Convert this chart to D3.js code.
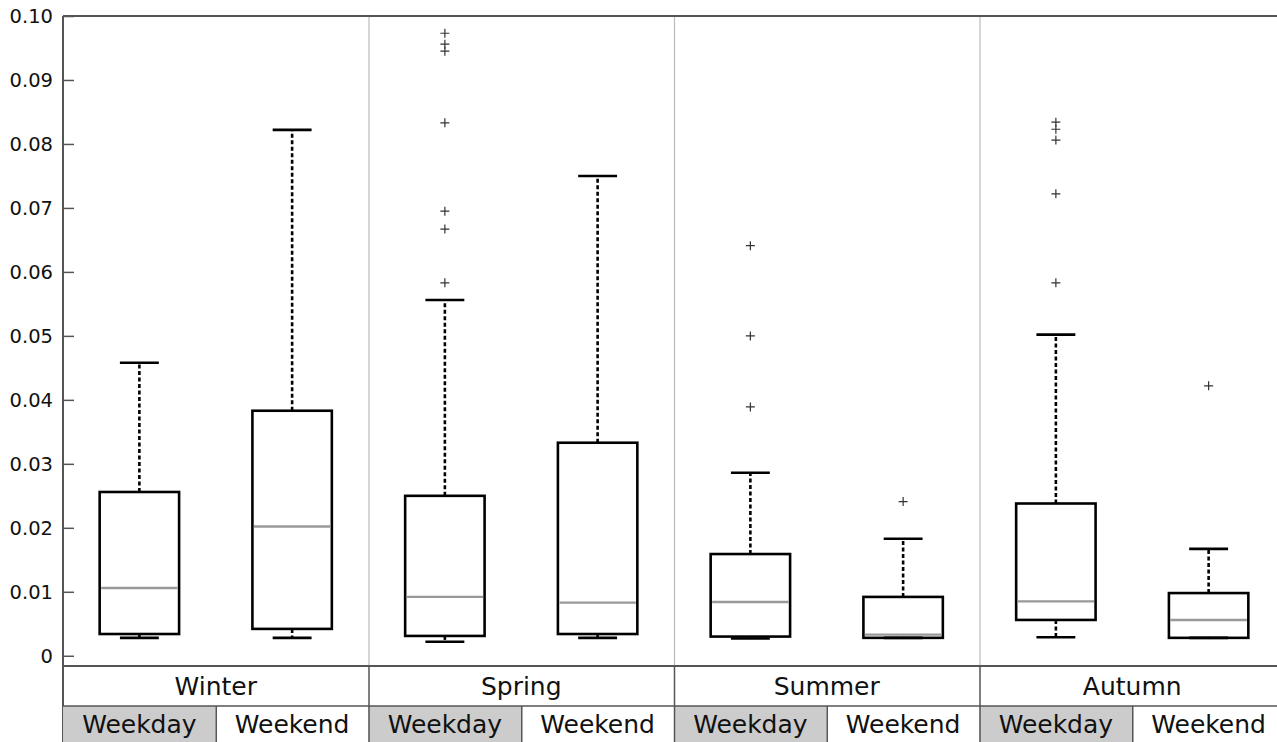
<!DOCTYPE html>
<html><head><meta charset="utf-8">
<script src="https://cdn.jsdelivr.net/npm/d3@7"></script>
<style>body{margin:0;background:#fff;overflow:hidden}svg{display:block;font-family:"DejaVu Sans",sans-serif}</style>
</head><body><svg id="c" width="1277" height="742"></svg>
<script>
const seasons = ["Winter","Spring","Summer","Autumn"];
const dayTypes = ["Weekday","Weekend"];
const yTicks = [0,0.01,0.02,0.03,0.04,0.05,0.06,0.07,0.08,0.09,0.10];
const yTickLabels = ["0","0.01","0.02","0.03","0.04","0.05","0.06","0.07","0.08","0.09","0.10"];
// order: Winter-Weekday, Winter-Weekend, Spring-Weekday, ...
const whiskerLow  = [0.0028,0.0028,0.0022,0.0028,0.0027,0.0028,0.0029,0.0028];
const q1          = [0.0034,0.0042,0.0031,0.0034,0.0030,0.0028,0.0056,0.0028];
const median      = [0.0106,0.0202,0.0092,0.0083,0.0084,0.0033,0.0085,0.0056];
const q3          = [0.0256,0.0383,0.0250,0.0333,0.0159,0.0092,0.0238,0.0098];
const whiskerHigh = [0.0458,0.0822,0.0556,0.0750,0.0286,0.0183,0.0502,0.0167];
const outliers = [
  [],
  [],
  [0.0973,0.0956,0.0945,0.0833,0.0695,0.0667,0.0583],
  [],
  [0.0641,0.0500,0.0389],
  [0.0241],
  [0.0834,0.0823,0.0806,0.0722,0.0583],
  [0.0422]
];

(function(){
const svg = d3.select("#c");
const left = 63, topY = 16, plotBottom = 666, row1 = 706, row2 = 746;
const colW = 305.5;
const x = d3.scaleBand().domain(seasons).range([left, left + colW*4]);
const xs = d3.scaleBand().domain(dayTypes).range([0, x.bandwidth()]);
const y = d3.scaleLinear().domain([-0.0016, 0.1]).range([plotBottom, topY]);
const axisCol = "#555";

const boxes = [];
seasons.forEach((s,i)=>dayTypes.forEach((d,j)=>{
  const k = i*2+j;
  boxes.push({s,d,k,cx:x(s)+xs(d)+xs.bandwidth()/2});
}));

svg.selectAll("line.sep").data(seasons.slice(1)).enter().append("line")
  .attr("x1",d=>x(d)+0.5).attr("x2",d=>x(d)+0.5).attr("y1",topY).attr("y2",plotBottom)
  .attr("stroke","#bbb").attr("stroke-width",1.2);

const yAxis = d3.axisLeft(y).tickValues(yTicks).tickFormat((d,i)=>yTickLabels[i]).tickSizeInner(-11).tickSizeOuter(0).tickPadding(10);
const ga = svg.append("g").attr("transform",`translate(${left},0)`).call(yAxis);
ga.select(".domain").attr("stroke",axisCol).attr("stroke-width",2).attr("d",`M0,${topY}V${row2}`);
ga.selectAll(".tick line").attr("stroke",axisCol).attr("stroke-width",1.5);
ga.selectAll(".tick text").attr("font-size",19.5).attr("fill","#111").attr("font-family","DejaVu Sans");
svg.append("line").attr("x1",left).attr("x2",1285).attr("y1",topY).attr("y2",topY).attr("stroke",axisCol).attr("stroke-width",2);

const bw = xs.bandwidth()*0.52, cw = bw*0.49;
const g = svg.append("g");
boxes.forEach(b=>{
  const k=b.k;
  g.append("line").attr("x1",b.cx).attr("x2",b.cx).attr("y1",y(q3[k])).attr("y2",y(whiskerHigh[k]))
    .attr("stroke","#000").attr("stroke-width",2.6).attr("stroke-dasharray","4,2.5");
  g.append("line").attr("x1",b.cx).attr("x2",b.cx).attr("y1",y(q1[k])).attr("y2",y(whiskerLow[k]))
    .attr("stroke","#000").attr("stroke-width",2.6).attr("stroke-dasharray","4,2.5");
  [whiskerHigh[k],whiskerLow[k]].forEach(v=>{
    g.append("line").attr("x1",b.cx-cw/2).attr("x2",b.cx+cw/2).attr("y1",y(v)).attr("y2",y(v))
      .attr("stroke","#000").attr("stroke-width",2.6);
  });
  g.append("rect").attr("x",b.cx-bw/2).attr("width",bw).attr("y",y(q3[k])).attr("height",y(q1[k])-y(q3[k]))
    .attr("fill","none").attr("stroke","#000").attr("stroke-width",2.6);
  g.append("line").attr("x1",b.cx-bw/2+1.5).attr("x2",b.cx+bw/2-1.5).attr("y1",y(median[k])).attr("y2",y(median[k]))
    .attr("stroke","#999").attr("stroke-width",2.4);
  outliers[k].forEach(v=>{
    const yy=y(v);
    g.append("path").attr("d",`M${b.cx-4.5},${yy}H${b.cx+4.5}M${b.cx},${yy-4.5}V${yy+4.5}`)
      .attr("stroke","#333").attr("stroke-width",1.2).attr("fill","none");
  });
});

seasons.forEach(s=>{
  svg.append("rect").attr("x",x(s)+xs("Weekday")).attr("y",row1).attr("width",xs.bandwidth()).attr("height",row2-row1)
    .attr("fill","#cccccc");
});
svg.append("line").attr("x1",left).attr("x2",1285).attr("y1",plotBottom).attr("y2",plotBottom).attr("stroke",axisCol).attr("stroke-width",2);
svg.append("line").attr("x1",left).attr("x2",1285).attr("y1",row1).attr("y2",row1).attr("stroke",axisCol).attr("stroke-width",1.5);
svg.selectAll("line.sepL").data(seasons.slice(1)).enter().append("line")
  .attr("x1",d=>x(d)+0.5).attr("x2",d=>x(d)+0.5).attr("y1",plotBottom).attr("y2",row2)
  .attr("stroke",axisCol).attr("stroke-width",1.5);
seasons.forEach(s=>{
  svg.append("line").attr("x1",x(s)+xs("Weekend")+0.5).attr("x2",x(s)+xs("Weekend")+0.5).attr("y1",row1).attr("y2",row2)
    .attr("stroke",axisCol).attr("stroke-width",1.5);
});
svg.selectAll("text.season").data(seasons).enter().append("text")
  .attr("x",d=>x(d)+x.bandwidth()/2).attr("y",(plotBottom+row1)/2+9).attr("text-anchor","middle")
  .attr("font-size",25).attr("fill","#111").text(d=>d);
boxes.forEach(b=>{
  svg.append("text").attr("x",b.cx).attr("y",row1+27).attr("text-anchor","middle")
    .attr("font-size",25).attr("fill","#111").text(b.d);
});
})();
</script></body></html>
